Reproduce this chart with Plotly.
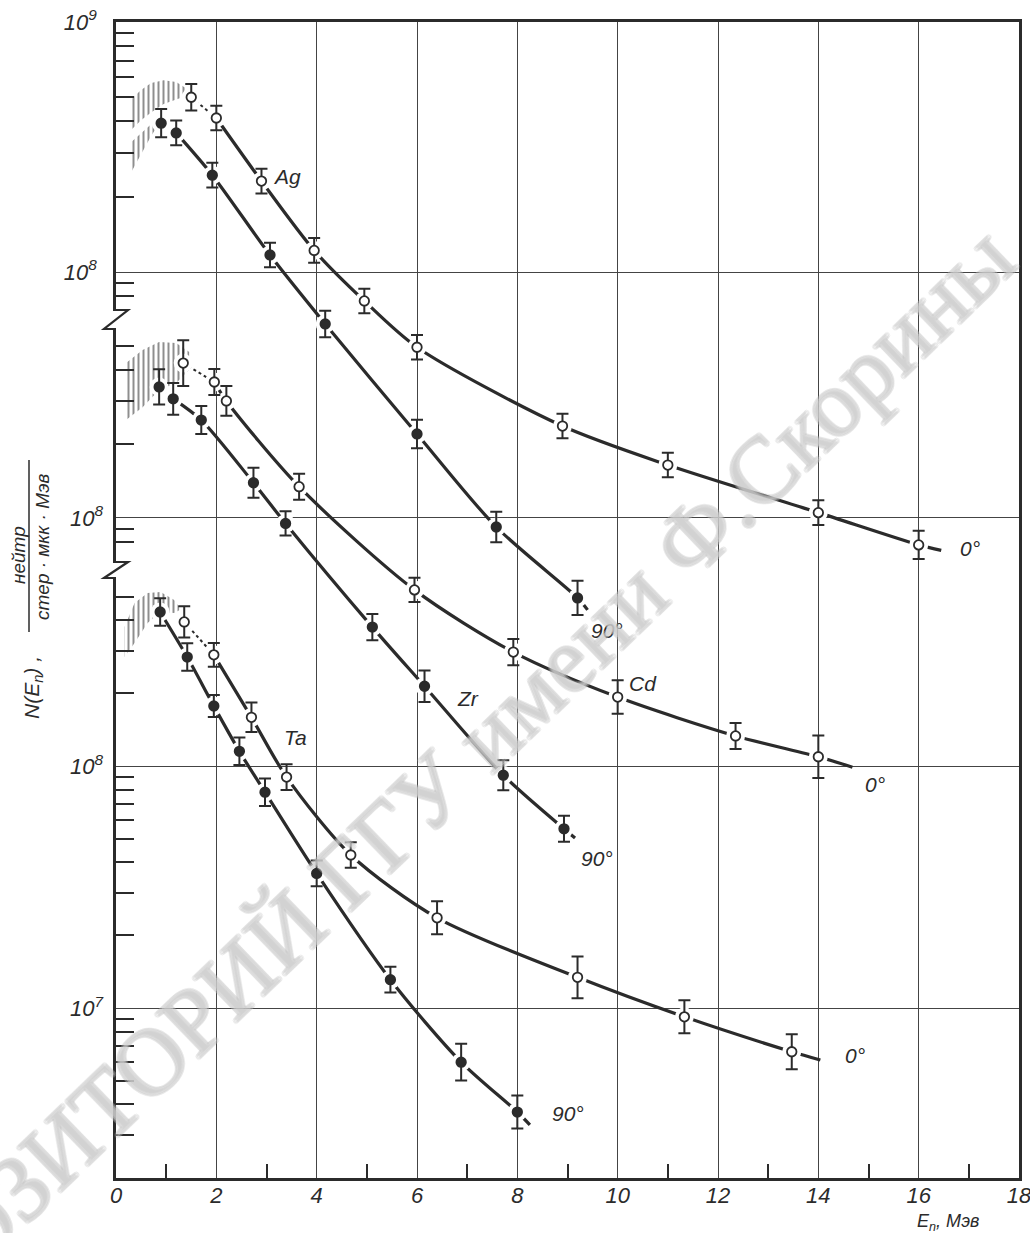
import plotly.graph_objects as go

# ---------------- data ----------------
# Energies in MeV, N(E) in neutrons/(sr*uC*MeV); each group has its own decade labels
E_ag0 = [1.5, 2.0, 2.9, 3.95, 4.95, 6.0, 8.9, 11.0, 14.0, 16.0]
N_ag0 = [5.0e8, 4.13e8, 2.31e8, 1.22e8, 7.66e7, 5.0e7, 2.42e7, 1.69e7, 1.09e7, 8.1e6]
dN_ag0 = [13, 12, 12, 12, 12, 12, 12, 12, 12, 14]          # error, %
E_ag90 = [0.9, 1.2, 1.92, 3.07, 4.17, 6.0, 7.58, 9.2]
N_ag90 = [3.94e8, 3.6e8, 2.44e8, 1.17e8, 6.2e7, 2.25e7, 9.55e6, 4.97e6]
dN_ag90 = [14, 12, 12, 12, 13, 14, 15, 17]

E_cd0 = [1.34, 1.96, 2.2, 3.65, 5.95, 7.92, 10.0, 12.35, 14.0]
N_cd0 = [4.26e8, 3.57e8, 2.99e8, 1.34e8, 5.1e7, 2.85e7, 1.87e7, 1.3e7, 1.07e7]
dN_cd0 = [24, 13, 15, 13, 12, 13, 17, 13, 22]
E_zr90 = [0.86, 1.14, 1.70, 2.74, 3.38, 5.11, 6.15, 7.72, 8.93]
N_zr90 = [3.41e8, 3.05e8, 2.5e8, 1.39e8, 9.5e7, 3.6e7, 2.07e7, 9.0e6, 5.45e6]
dN_zr90 = [18, 16, 14, 15, 12, 13, 16, 15, 13]

E_ta0 = [1.36, 1.95, 2.70, 3.40, 4.68, 6.4, 9.2, 11.33, 13.47]
N_ta0 = [3.94e8, 2.88e8, 1.59e8, 9.0e7, 4.29e7, 2.36e7, 1.34e7, 9.2e6, 6.6e6]
dN_ta0 = [16, 12, 15, 13, 13, 17, 22, 17, 18]
E_ta90 = [0.88, 1.42, 1.95, 2.46, 2.97, 4.0, 5.47, 6.88, 8.0]
N_ta90 = [4.33e8, 2.82e8, 1.77e8, 1.15e8, 7.8e7, 3.6e7, 1.31e7, 5.98e6, 3.72e6]
dN_ta90 = [14, 14, 11, 14, 14, 13, 13, 19, 17]

# where each drawn curve ends beyond its last point
tail_ag0 = (16.45, 7.7e6)
tail_ag90 = (9.4, 4.45e6)
tail_cd0 = (14.68, 9.7e6)
tail_zr90 = (9.15, 5.0e6)
tail_ta0 = (14.04, 6.1e6)
tail_ta90 = (8.25, 3.29e6)

# hatched low-energy bands: x, upper edge, lower edge
band_ag_hi_x = [0.3, 0.5, 0.7, 0.95, 1.2, 1.45]
band_ag_hi_u = [4.9e8, 5.35e8, 5.7e8, 5.85e8, 5.75e8, 5.35e8]
band_ag_hi_l = [3.7e8, 4.05e8, 4.35e8, 4.7e8, 4.9e8, 5.1e8]
band_ag_lo_x = [0.3, 0.5, 0.7, 0.85]
band_ag_lo_u = [3.3e8, 3.6e8, 3.9e8, 4.05e8]
band_ag_lo_l = [2.5e8, 2.95e8, 3.5e8, 3.9e8]
band_cd_x = [0.2, 0.53, 0.86, 1.2, 1.46]
band_cd_u = [4.26e8, 4.82e8, 5.19e8, 5.14e8, 4.73e8]
band_cd_l = [2.5e8, 2.82e8, 3.31e8, 3.54e8, 4.0e8]
band_ta_x = [0.17, 0.37, 0.63, 0.89, 1.16, 1.26]
band_ta_u = [3.75e8, 4.72e8, 5.19e8, 5.24e8, 4.85e8, 4.54e8]
band_ta_l = [2.82e8, 3.22e8, 3.9e8, 4.33e8, 4.29e8, 4.4e8]

x_ticks = [0, 2, 4, 6, 8, 10, 12, 14, 16, 18]
x_minor = [1, 3, 5, 7, 9, 11, 13, 15, 17]

# ---------------- layout helpers ----------------
W, H = 1030, 1233
L, R, T, B = 116, 1019, 22, 1178
INK = "#2b2b2b"
FONT = "Liberation Sans"


def pp(xp, yp):
    return (xp - L) / (R - L), (B - yp) / (B - T)


fig = go.Figure()

series = [
    # E, N, dN, axis, open, dotted first segment, tail
    (E_ag0, N_ag0, dN_ag0, "y", True, True, tail_ag0),
    (E_ag90, N_ag90, dN_ag90, "y", False, True, tail_ag90),
    (E_cd0, N_cd0, dN_cd0, "y2", True, True, tail_cd0),
    (E_zr90, N_zr90, dN_zr90, "y2", False, True, tail_zr90),
    (E_ta0, N_ta0, dN_ta0, "y3", True, True, tail_ta0),
    (E_ta90, N_ta90, dN_ta90, "y3", False, False, tail_ta90),
]
bands = [
    (band_ag_hi_x, band_ag_hi_u, band_ag_hi_l, "y"),
    (band_ag_lo_x, band_ag_lo_u, band_ag_lo_l, "y"),
    (band_cd_x, band_cd_u, band_cd_l, "y2"),
    (band_ta_x, band_ta_u, band_ta_l, "y3"),
]

for ax in ["y", "y2", "y3"]:
    for bx, bu, bl, bax in bands:
        if bax != ax:
            continue
        fig.add_trace(go.Scatter(
            x=bx + bx[::-1], y=bu + bl[::-1], yaxis=bax, mode="lines",
            fill="toself", fillcolor="rgba(255,255,255,0)",
            line=dict(width=0, color="rgba(0,0,0,0)"),
            fillpattern=dict(shape="|", size=5, solidity=0.4,
                             fgcolor="#1e1e1e", bgcolor="rgba(255,255,255,0)"),
            hoverinfo="skip", showlegend=False))
    for E, N, dN, sax, is_open, dotted, tail in series:
        if sax != ax:
            continue
        if dotted:
            fig.add_trace(go.Scatter(x=E[:2], y=N[:2], yaxis=sax, mode="lines",
                                     line=dict(color=INK, width=2, dash="dot"),
                                     showlegend=False, hoverinfo="skip"))
            cx, cy = E[1:] + [tail[0]], N[1:] + [tail[1]]
        else:
            cx, cy = E + [tail[0]], N + [tail[1]]
        fig.add_trace(go.Scatter(x=cx, y=cy, yaxis=sax, mode="lines",
                                 line=dict(color=INK, width=3.2, shape="spline", smoothing=0.8),
                                 showlegend=False, hoverinfo="skip"))
    for E, N, dN, sax, is_open, dotted, tail in series:
        if sax != ax:
            continue
        fig.add_trace(go.Scatter(x=E, y=N, yaxis=sax, mode="markers",
                                 marker=dict(size=19, color="white", line=dict(width=0)),
                                 showlegend=False, hoverinfo="skip"))
        up = [n * p / 100 for n, p in zip(N, dN)]
        dn = [n * (1 - 1 / (1 + p / 100)) for n, p in zip(N, dN)]
        fig.add_trace(go.Scatter(
            x=E, y=N, yaxis=sax, mode="markers",
            marker=dict(size=9.5, symbol="circle", color="white" if is_open else INK,
                        line=dict(width=1.8, color=INK)),
            error_y=dict(type="data", symmetric=False, array=up, arrayminus=dn,
                         color=INK, thickness=2, width=6),
            showlegend=False))

tickfont = dict(family=FONT, size=22, color=INK, style="italic")
common_y = dict(type="log", ticks="", showgrid=True, gridcolor="#444", gridwidth=1.2,
                zeroline=False, tickmode="array", tickfont=tickfont, ticklabelstandoff=12,
                anchor="x", side="left", automargin=False, ticklabeloverflow="allow")
minor_y = dict(ticks="inside", ticklen=18, tickwidth=1.6, tickcolor=INK, showgrid=False)

fig.update_layout(
    width=W, height=H, plot_bgcolor="white", paper_bgcolor="white",
    margin=dict(l=L, r=W - R, t=T, b=H - B, autoexpand=False), showlegend=False,
    xaxis=dict(range=[0, 18], tickmode="array", tickvals=x_ticks,
               ticktext=[str(v) for v in x_ticks], ticks="", showgrid=True,
               gridcolor="#444", gridwidth=1.2, showline=True, linecolor=INK,
               linewidth=2.6, mirror=True, zeroline=False, tickfont=tickfont,
               ticklabelstandoff=-4, automargin=False, ticklabeloverflow="allow",
               minor=dict(tickvals=x_minor, ticks="inside", ticklen=14, tickwidth=1.6,
                          tickcolor=INK, showgrid=False)),
    yaxis=dict(range=[4.376, 9], tickvals=[1e9, 1e8],
               ticktext=["10<sup>9</sup>", "10<sup>8</sup>"],
               showline=True, linecolor=INK, linewidth=2.6, mirror=True,
               minor=dict(tickvals=[9e8, 8e8, 7e8, 6e8, 5e8, 4e8, 3e8, 2e8, 9e7, 8e7], **minor_y),
               **common_y),
    yaxis2=dict(range=[5.317, 10.016], overlaying="y", tickvals=[1e8],
                ticktext=["10<sup>8</sup>"], showline=False,
                minor=dict(tickvals=[5e8, 4e8, 3e8, 2e8, 9e7, 8e7], **minor_y),
                **common_y),
    yaxis3=dict(range=[6.298, 11.074], overlaying="y", tickvals=[1e8, 1e7],
                ticktext=["10<sup>8</sup>", "10<sup>7</sup>"], showline=False,
                minor=dict(tickvals=[5e8, 4e8, 3e8, 2e8, 9e7, 8e7, 7e7, 6e7, 5e7, 4e7, 3e7, 2e7,
                                     9e6, 8e6, 7e6, 6e6, 5e6, 4e6, 3e6], **minor_y),
                **common_y),
)

# axis breaks
shapes = []
for y1, y2 in [(310, 329), (562, 578)]:
    a0, b0 = pp(L - 3, y1 + 1)
    a1, b1 = pp(L + 3, y2 - 1)
    shapes.append(dict(type="rect", xref="paper", yref="paper", x0=a0, x1=a1, y0=b0, y1=b1,
                       fillcolor="white", line=dict(width=0), layer="above"))
    p = [pp(L, y1), pp(L + 12, y1), pp(L - 12, y2), pp(L, y2)]
    path = "M " + " L ".join(f"{u:.5f},{v:.5f}" for u, v in p)
    shapes.append(dict(type="path", xref="paper", yref="paper", path=path,
                       line=dict(color=INK, width=2.2), layer="above"))
# fraction bar of the axis title
f0, g0 = pp(29, 460)
f1, g1 = pp(29, 632)
shapes.append(dict(type="line", xref="paper", yref="paper", x0=f0, x1=f1, y0=g0, y1=g1,
                   line=dict(color=INK, width=1.5)))
fig.update_layout(shapes=shapes)


def label(txt, xp, yp, size=20, angle=0, family=FONT, color=INK, **kw):
    u, v = pp(xp, yp)
    return dict(text=txt, x=u, y=v, xref="paper", yref="paper", showarrow=False,
                xanchor="center", yanchor="middle", textangle=angle,
                font=dict(family=family, size=size, color=color, style="italic", **kw))


labels = [
    ("Ag", 287, 176), ("0°", 970, 548), ("90°", 607, 630),
    ("Cd", 643, 683), ("0°", 875, 784),
    ("Zr", 468, 698), ("90°", 597, 858),
    ("Ta", 295, 738), ("0°", 855, 1055), ("90°", 568, 1113),
]
ann = [label(t, x, y, size=21) for t, x, y in labels]
ann.append(label("N(E<sub>n</sub>) ,", 33, 688, size=21, angle=-90))
ann.append(label("нейтр", 18, 555, size=19, angle=-90))
ann.append(label("стер · мкк · Мэв", 42, 547, size=19, angle=-90))
ann.append(label("E<sub>n</sub>, Мэв", 948, 1222, size=18))

# repository watermark (outlined letters)
g = "#bdbdbd"
offs = [(2, 0), (-2, 0), (0, 2), (0, -2), (1.5, 1.5), (-1.5, 1.5), (1.5, -1.5), (-1.5, -1.5)]
shadow = ", ".join(f"{a}px {b}px 0 {g}" for a, b in offs)
u, v = pp(412, 808)
ann.append(dict(text="РЕПОЗИТОРИЙ ГГУ имени Ф.Скорины", x=u, y=v, xref="paper", yref="paper",
                showarrow=False, textangle=-44, xanchor="center", yanchor="middle",
                font=dict(family="Liberation Serif", size=94, color="rgba(255,255,255,0.2)",
                          shadow=shadow)))
fig.update_layout(annotations=ann)

fig.write_html("out.html", config={"displayModeBar": False},
               post_script="document.body.style.margin='0px';document.body.style.overflow='hidden';")
